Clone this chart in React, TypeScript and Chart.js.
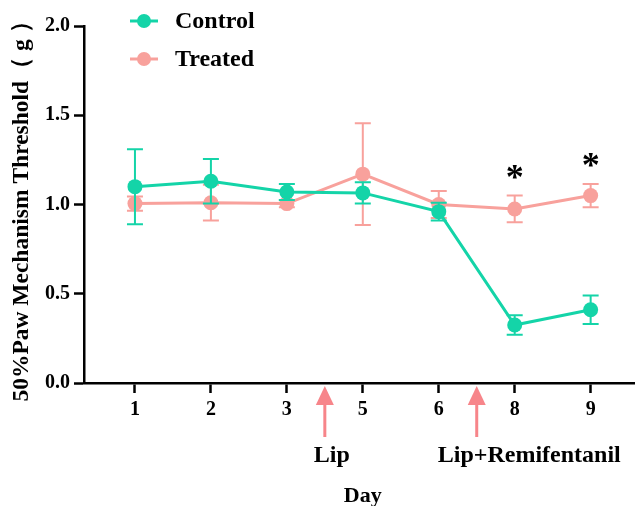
import React, { useEffect, useRef } from 'react';
import { Chart, registerables } from 'chart.js';

Chart.register(...registerables);

// ---- data ----
const days = ['1', '2', '3', '5', '6', '8', '9'];
const controlMean = [1.1, 1.13, 1.07, 1.065, 0.96, 0.325, 0.41];
const controlErr = [0.21, 0.125, 0.045, 0.06, 0.05, 0.055, 0.08];
const treatedMean = [1.005, 1.01, 1.005, 1.17, 1.0, 0.975, 1.05];
const treatedErr = [0.04, 0.1, 0.02, 0.285, 0.075, 0.075, 0.065];
const yTicks = [0, 0.5, 1.0, 1.5, 2.0];
const significant = [false, false, false, false, false, true, true];
const arrowLabels = ['Lip', 'Lip+Remifentanil'];
const arrowAfterIndex = [2, 4]; // arrow placed between index and index+1

const CONTROL = '#14d4a8';
const TREATED = '#f8a19c';
const ARROW = '#f7858a';
const FONT = "'Liberation Serif', 'Times New Roman', serif";

const errorBarPlugin = {
  id: 'errorBars',
  beforeDatasetDraw(chart: any, args: any) {
    const ds = chart.data.datasets[args.index];
    const errs: number[] = ds.errors;
    if (!errs) return;
    const meta = chart.getDatasetMeta(args.index);
    const y = chart.scales.y;
    const ctx = chart.ctx;
    ctx.save();
    ctx.strokeStyle = ds.borderColor;
    ctx.lineWidth = 2;
    meta.data.forEach((pt: any, i: number) => {
      const v = ds.data[i].y;
      const top = y.getPixelForValue(v + errs[i]);
      const bot = y.getPixelForValue(v - errs[i]);
      const x = pt.x;
      ctx.beginPath();
      ctx.moveTo(x, top);
      ctx.lineTo(x, bot);
      ctx.moveTo(x - 8, top);
      ctx.lineTo(x + 8, top);
      ctx.moveTo(x - 8, bot);
      ctx.lineTo(x + 8, bot);
      ctx.stroke();
    });
    ctx.restore();
  },
};

const annotationsPlugin = {
  id: 'annotations',
  afterDraw(chart: any) {
    const ctx = chart.ctx;
    const xs = chart.scales.x;
    const ys = chart.scales.y;
    const area = chart.chartArea;
    ctx.save();

    // y axis title
    ctx.save();
    ctx.translate(22, (area.top + area.bottom) / 2 + 1);
    ctx.rotate(-Math.PI / 2);
    ctx.fillStyle = '#000';
    ctx.font = `bold 23.5px ${FONT}`;
    ctx.textAlign = 'center';
    ctx.textBaseline = 'middle';
    ctx.fillText('50%Paw Mechanism Threshold（ g ）', 0, 0);
    ctx.restore();

    // x axis title
    ctx.fillStyle = '#000';
    ctx.font = `bold 22px ${FONT}`;
    ctx.textAlign = 'center';
    ctx.textBaseline = 'middle';
    ctx.fillText('Day', xs.getPixelForValue(3), 496);

    // asterisks
    ctx.font = `bold 36px ${FONT}`;
    significant.forEach((s, i) => {
      if (!s) return;
      const top = Math.max(treatedMean[i] + treatedErr[i], controlMean[i] + controlErr[i]);
      const px = xs.getPixelForValue(i);
      const py = ys.getPixelForValue(top) - 16;
      ctx.fillText('*', px, py);
    });

    // arrows
    arrowAfterIndex.forEach((idx, k) => {
      const ax = (xs.getPixelForValue(idx) + xs.getPixelForValue(idx + 1)) / 2;
      ctx.fillStyle = ARROW;
      ctx.beginPath();
      ctx.moveTo(ax, 386);
      ctx.lineTo(ax + 9, 405);
      ctx.lineTo(ax - 9, 405);
      ctx.closePath();
      ctx.fill();
      ctx.fillRect(ax - 1.5, 404, 3, 33);
      ctx.fillStyle = '#000';
      ctx.font = `bold 24px ${FONT}`;
      ctx.textAlign = k === 0 ? 'center' : 'left';
      ctx.fillText(arrowLabels[k], k === 0 ? ax + 7 : ax - 39, 456);
    });

    // legend
    const items = [
      { label: 'Control', color: CONTROL, y: 21 },
      { label: 'Treated', color: TREATED, y: 59 },
    ];
    items.forEach((it) => {
      ctx.strokeStyle = it.color;
      ctx.lineWidth = 3;
      ctx.beginPath();
      ctx.moveTo(130, it.y);
      ctx.lineTo(158, it.y);
      ctx.stroke();
      ctx.fillStyle = it.color;
      ctx.beginPath();
      ctx.arc(144, it.y, 7, 0, Math.PI * 2);
      ctx.fill();
      ctx.fillStyle = '#000';
      ctx.font = `bold 24px ${FONT}`;
      ctx.textAlign = 'left';
      ctx.textBaseline = 'middle';
      ctx.fillText(it.label, 175, it.y + 1);
    });
    ctx.restore();
  },
};

export default function App() {
  const ref = useRef<HTMLCanvasElement | null>(null);
  useEffect(() => {
    document.body.style.margin = '0';
    const canvas = ref.current!;
    const tickFont = { family: FONT, size: 20, weight: 'bold' as const };
    const chart = new Chart(canvas, {
      type: 'line',
      data: {
        datasets: [
          {
            label: 'Control',
            data: controlMean.map((v, i) => ({ x: i, y: v })),
            errors: controlErr,
            borderColor: CONTROL,
            backgroundColor: CONTROL,
            borderWidth: 3,
            pointRadius: 7.5,
            pointBorderWidth: 0,
            pointBackgroundColor: CONTROL,
          } as any,
          {
            label: 'Treated',
            data: treatedMean.map((v, i) => ({ x: i, y: v })),
            errors: treatedErr,
            borderColor: TREATED,
            backgroundColor: TREATED,
            borderWidth: 3,
            pointRadius: 7.5,
            pointBorderWidth: 0,
            pointBackgroundColor: TREATED,
          } as any,
        ],
      },
      options: {
        responsive: false,
        animation: false,
        devicePixelRatio: 1,
        layout: { autoPadding: false, padding: { top: 26, right: 0, left: 0, bottom: 0 } },
        plugins: { legend: { display: false }, tooltip: { enabled: false } },
        scales: {
          x: {
            type: 'linear',
            min: -0.671,
            max: 6.584,
            afterBuildTicks: (s: any) => {
              s.ticks = days.map((_, i) => ({ value: i }));
            },
            afterFit: (s: any) => {
              s.height = 123;
            },
            ticks: {
              callback: (v: any) => days[v as number],
              color: '#000',
              font: tickFont,
              padding: 5,
              autoSkip: false,
              maxRotation: 0,
            },
            grid: { drawOnChartArea: false, tickLength: 10, tickWidth: 2.5, color: '#000' },
            border: { color: '#000', width: 2.5 },
          },
          y: {
            min: 0,
            max: 2,
            afterBuildTicks: (s: any) => {
              s.ticks = yTicks.map((v) => ({ value: v }));
            },
            afterFit: (s: any) => {
              s.width = 84;
            },
            ticks: {
              callback: (v: any) => Number(v).toFixed(1),
              color: '#000',
              font: tickFont,
              padding: 4,
            },
            grid: { drawOnChartArea: false, tickLength: 10, tickWidth: 2.5, color: '#000' },
            border: { color: '#000', width: 2.5 },
          },
        },
      },
      plugins: [errorBarPlugin, annotationsPlugin],
    });
    return () => chart.destroy();
  }, []);
  return (
    <div style={{ position: 'absolute', left: 0, top: 0, width: 635, height: 506, background: '#fff' }}>
      <canvas ref={ref} width={635} height={506} style={{ display: 'block' }} />
    </div>
  );
}
